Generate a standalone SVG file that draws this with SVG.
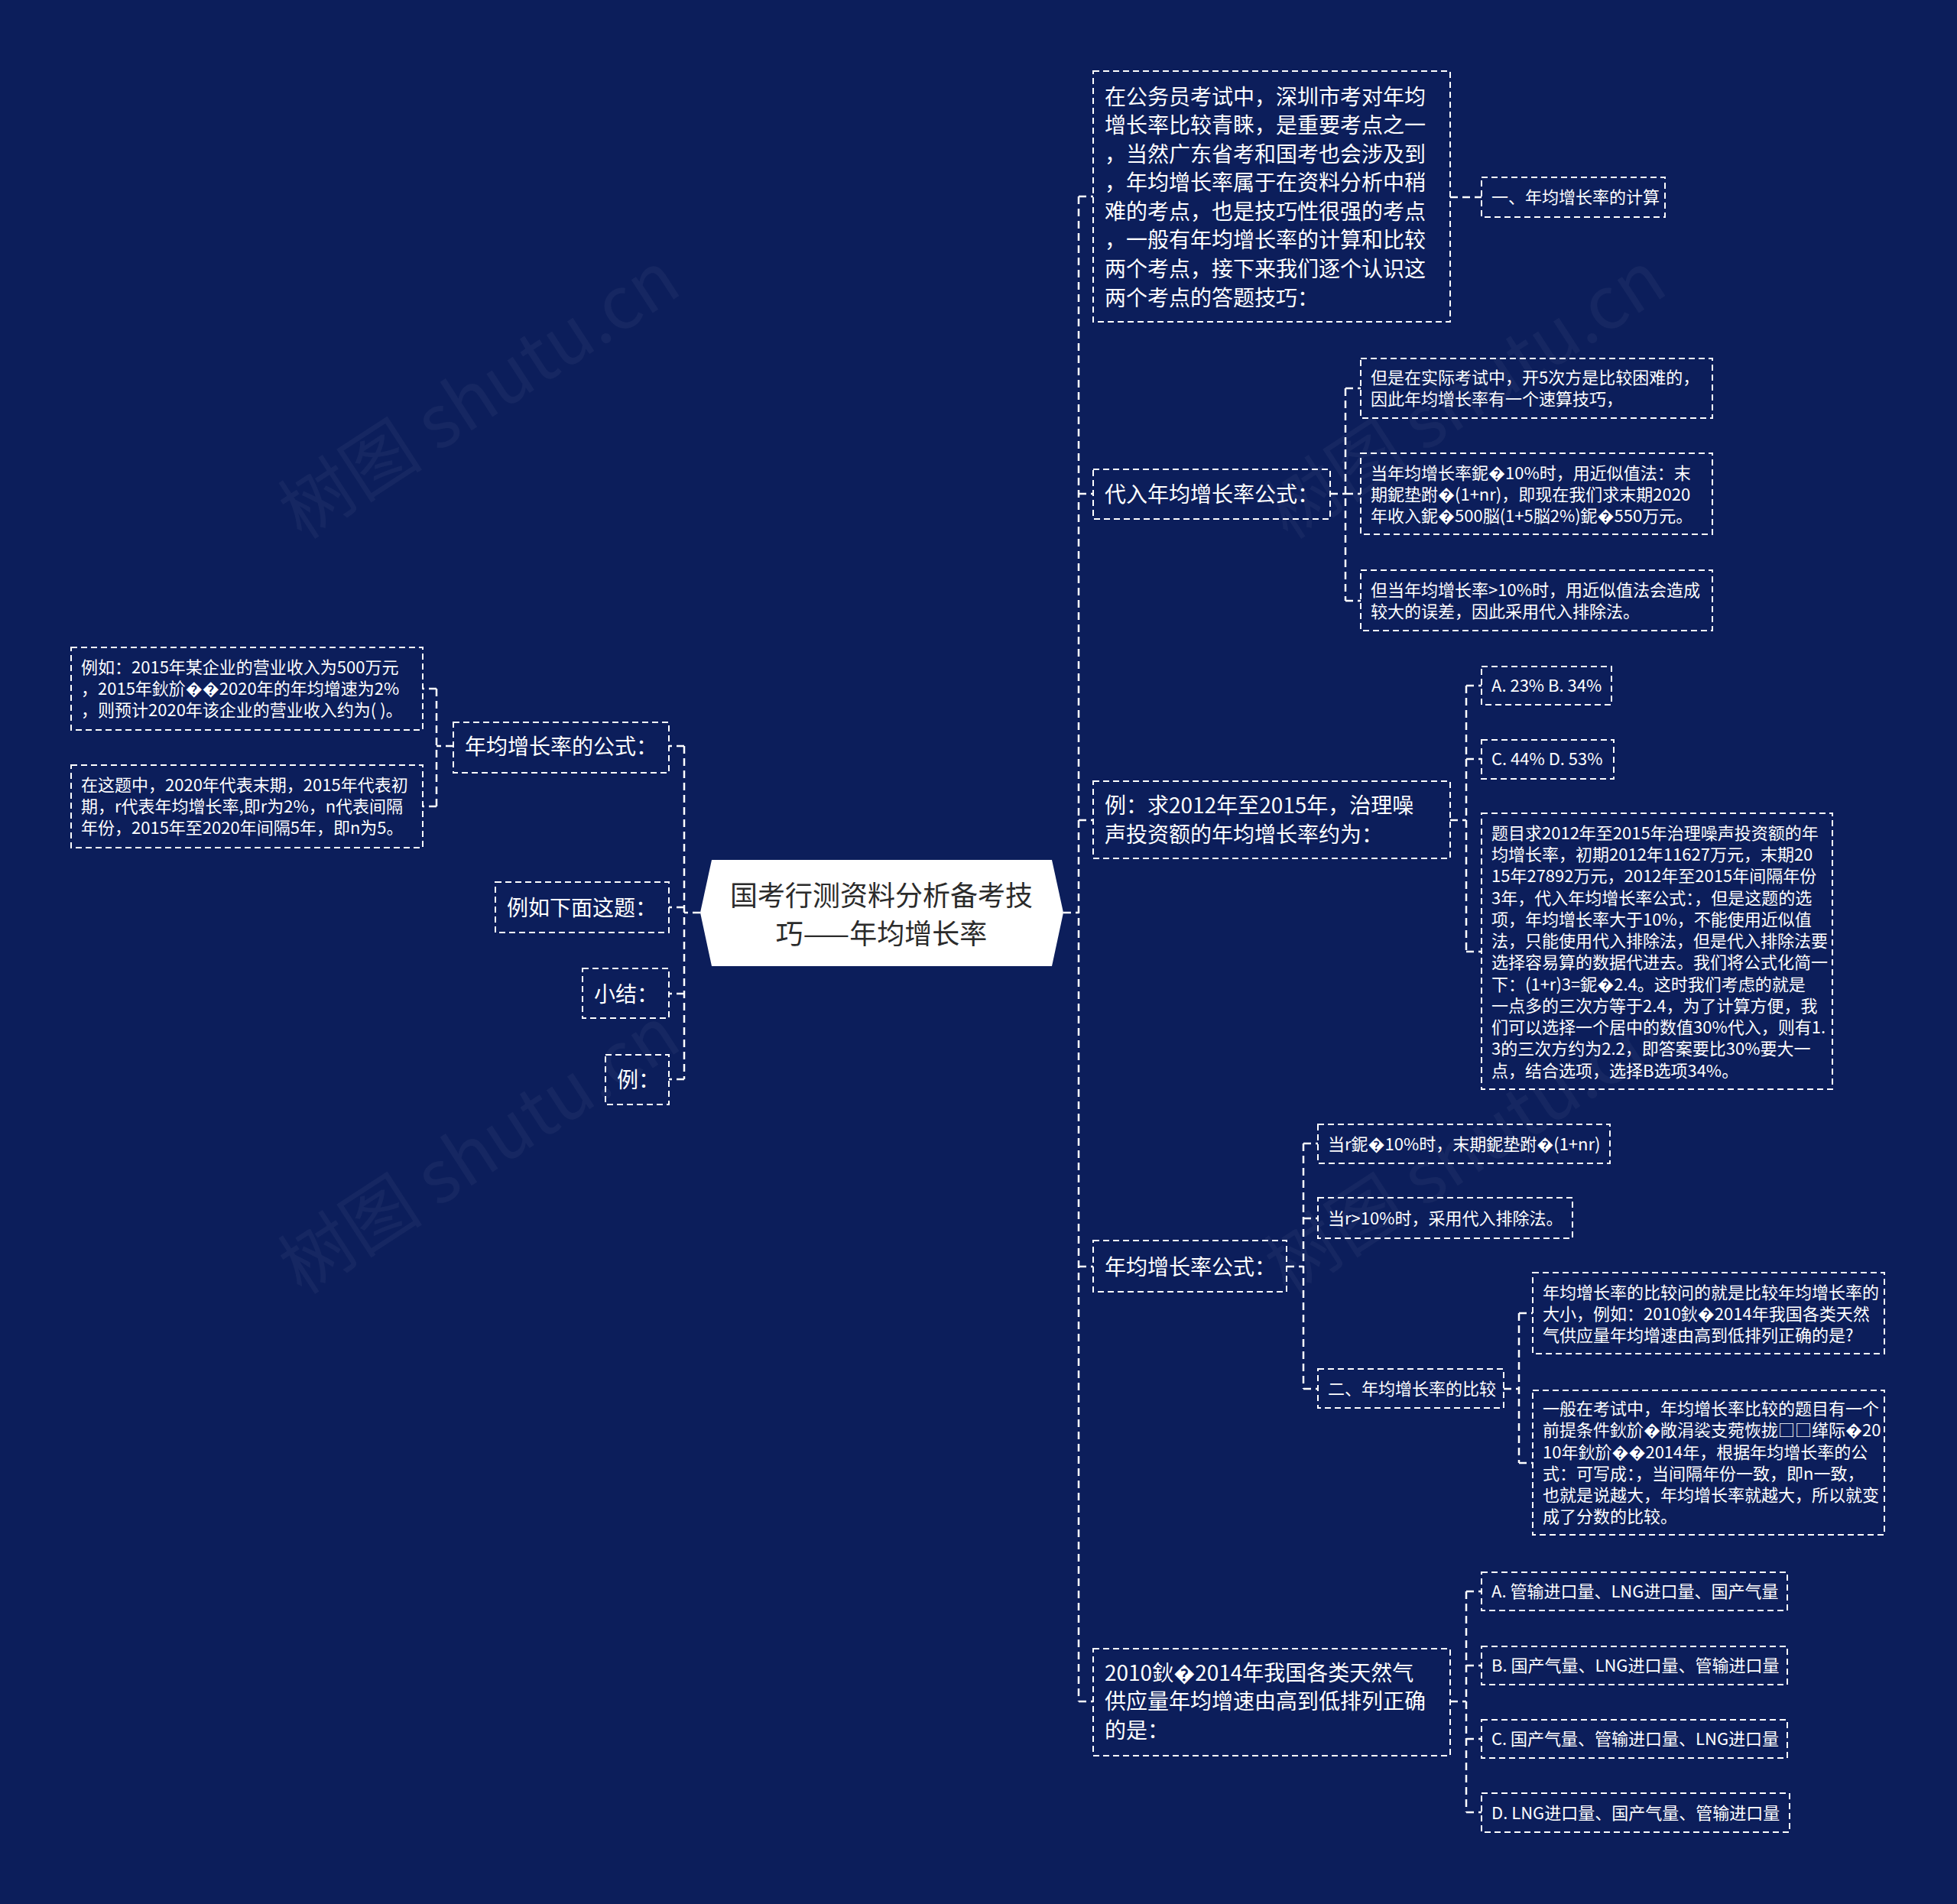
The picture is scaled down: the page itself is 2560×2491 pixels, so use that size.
<svg xmlns="http://www.w3.org/2000/svg" width="2560" height="2491" viewBox="0 0 2560 2491">
<style>
.box{fill:none;stroke:#ffffff;stroke-width:2;stroke-dasharray:8 5}
.con{fill:none;stroke:#ffffff;stroke-width:2.5;stroke-dasharray:10 6}
.t28{font-family:'Noto Sans CJK SC','Noto Sans',sans-serif;font-size:28px;fill:#ffffff}
.t22{font-family:'Noto Sans CJK SC','Noto Sans',sans-serif;font-size:22px;fill:#ffffff}
.wm{font-family:'Noto Sans CJK SC','Noto Sans',sans-serif;font-size:95px;fill:#ffffff;fill-opacity:0.045}
</style>
<rect x="0" y="0" width="2560" height="2491" fill="#0c1e5b"/>
<g id="watermark">
<text class="wm" text-anchor="middle" transform="translate(645,545) rotate(-33)">树图 shutu.cn</text>
<text class="wm" text-anchor="middle" transform="translate(645,1533) rotate(-33)">树图 shutu.cn</text>
<text class="wm" text-anchor="middle" transform="translate(1935,545) rotate(-33)">树图 shutu.cn</text>
<text class="wm" text-anchor="middle" transform="translate(1935,1533) rotate(-33)">树图 shutu.cn</text>
</g>
<g id="connectors">
<path class="con" d="M1391,1194 H1411 M1411,257 V2226 M1411,257 H1430 M1411,646 H1430 M1411,1073 H1430 M1411,1657 H1430 M1411,2226 H1430"/>
<path class="con" d="M916,1194 H895 M895,976 V1412 M895,976 H875 M895,1187 H875 M895,1300 H875 M895,1412 H875"/>
<path class="con" d="M593,976 H571 M571,901 V1055 M571,901 H553 M571,1055 H553"/>
<path class="con" d="M1897,258 H1938"/>
<path class="con" d="M1740,646 H1760 M1760,508 V786 M1760,508 H1780 M1760,646 H1780 M1760,786 H1780"/>
<path class="con" d="M1897,1073 H1918 M1918,897 V1245 M1918,897 H1938 M1918,993 H1938 M1918,1245 H1938"/>
<path class="con" d="M1683,1657 H1705 M1705,1496 V1817 M1705,1496 H1724 M1705,1594 H1724 M1705,1817 H1724"/>
<path class="con" d="M1967,1817 H1987 M1987,1718 V1914 M1987,1718 H2005 M1987,1914 H2005"/>
<path class="con" d="M1897,2226 H1918 M1918,2082 V2371 M1918,2082 H1938 M1918,2179 H1938 M1918,2275 H1938 M1918,2371 H1938"/>
</g>
<g id="root">
<polygon points="931,1125 1376,1125 1391,1194 1376,1264 931,1264 916,1194" fill="#ffffff"/>
<text x="1153" y="1185" text-anchor="middle" font-family="'Noto Sans CJK SC','Noto Sans',sans-serif" font-size="36" fill="#2b2b2b">国考行测资料分析备考技</text>
<text x="1153" y="1235" text-anchor="middle" font-family="'Noto Sans CJK SC','Noto Sans',sans-serif" font-size="36" fill="#2b2b2b">巧——年均增长率</text>
</g>
<g id="left1">
<rect class="box" x="593" y="945" width="282" height="66"/>
<text class="t28" x="608" y="987">年均增长率的公式：</text>
</g>
<g id="left1a">
<rect class="box" x="93" y="847" width="460" height="108"/>
<text class="t22" x="106" y="881">例如：2015年某企业的营业收入为500万元</text>
<text class="t22" x="106" y="909">，2015年鈥斺��2020年的年均增速为2%</text>
<text class="t22" x="106" y="937">，则预计2020年该企业的营业收入约为( )。</text>
</g>
<g id="left1b">
<rect class="box" x="93" y="1001" width="460" height="108"/>
<text class="t22" x="106" y="1035">在这题中，2020年代表末期，2015年代表初</text>
<text class="t22" x="106" y="1063">期，r代表年均增长率,即r为2%，n代表间隔</text>
<text class="t22" x="106" y="1091">年份，2015年至2020年间隔5年，即n为5。</text>
</g>
<g id="left2">
<rect class="box" x="648" y="1154" width="227" height="66"/>
<text class="t28" x="663" y="1198">例如下面这题：</text>
</g>
<g id="left3">
<rect class="box" x="762" y="1267" width="113" height="65"/>
<text class="t28" x="777" y="1311">小结：</text>
</g>
<g id="left4">
<rect class="box" x="792" y="1380" width="83" height="65"/>
<text class="t28" x="807" y="1423">例：</text>
</g>
<g id="r1">
<rect class="box" x="1430" y="93" width="467" height="328"/>
<text class="t28" x="1445" y="137">在公务员考试中，深圳市考对年均</text>
<text class="t28" x="1445" y="174">增长率比较青睐，是重要考点之一</text>
<text class="t28" x="1445" y="212">，当然广东省考和国考也会涉及到</text>
<text class="t28" x="1445" y="249">，年均增长率属于在资料分析中稍</text>
<text class="t28" x="1445" y="287">难的考点，也是技巧性很强的考点</text>
<text class="t28" x="1445" y="324">，一般有年均增长率的计算和比较</text>
<text class="t28" x="1445" y="362">两个考点，接下来我们逐个认识这</text>
<text class="t28" x="1445" y="400">两个考点的答题技巧：</text>
</g>
<g id="r1a">
<rect class="box" x="1938" y="232" width="240" height="52"/>
<text class="t22" x="1951" y="266">一、年均增长率的计算</text>
</g>
<g id="r2">
<rect class="box" x="1430" y="614" width="310" height="65"/>
<text class="t28" x="1445" y="657">代入年均增长率公式：</text>
</g>
<g id="r2a">
<rect class="box" x="1780" y="469" width="460" height="78"/>
<text class="t22" x="1793" y="502">但是在实际考试中，开5次方是比较困难的，</text>
<text class="t22" x="1793" y="530">因此年均增长率有一个速算技巧，</text>
</g>
<g id="r2b">
<rect class="box" x="1780" y="593" width="460" height="106"/>
<text class="t22" x="1793" y="627">当年均增长率鈮�10%时，用近似值法：末</text>
<text class="t22" x="1793" y="655">期鈮垫跗�(1+nr)，即现在我们求末期2020</text>
<text class="t22" x="1793" y="683">年收入鈮�500脳(1+5脳2%)鈮�550万元。</text>
</g>
<g id="r2c">
<rect class="box" x="1780" y="746" width="460" height="79"/>
<text class="t22" x="1793" y="780">但当年均增长率&gt;10%时，用近似值法会造成</text>
<text class="t22" x="1793" y="808">较大的误差，因此采用代入排除法。</text>
</g>
<g id="r3">
<rect class="box" x="1430" y="1022" width="467" height="101"/>
<text class="t28" x="1445" y="1064">例：求2012年至2015年，治理噪</text>
<text class="t28" x="1445" y="1102">声投资额的年均增长率约为：</text>
</g>
<g id="r3a">
<rect class="box" x="1938" y="872" width="170" height="50"/>
<text class="t22" x="1951" y="905">A. 23% B. 34%</text>
</g>
<g id="r3b">
<rect class="box" x="1938" y="968" width="173" height="51"/>
<text class="t22" x="1951" y="1001">C. 44% D. 53%</text>
</g>
<g id="r3c">
<rect class="box" x="1938" y="1064" width="459" height="361"/>
<text class="t22" x="1951" y="1098">题目求2012年至2015年治理噪声投资额的年</text>
<text class="t22" x="1951" y="1126">均增长率，初期2012年11627万元，末期20</text>
<text class="t22" x="1951" y="1154">15年27892万元，2012年至2015年间隔年份</text>
<text class="t22" x="1951" y="1183">3年，代入年均增长率公式：，但是这题的选</text>
<text class="t22" x="1951" y="1211">项，年均增长率大于10%，不能使用近似值</text>
<text class="t22" x="1951" y="1239">法，只能使用代入排除法，但是代入排除法要</text>
<text class="t22" x="1951" y="1267">选择容易算的数据代进去。我们将公式化简一</text>
<text class="t22" x="1951" y="1296">下：(1+r)3=鈮�2.4。这时我们考虑的就是</text>
<text class="t22" x="1951" y="1324">一点多的三次方等于2.4，为了计算方便，我</text>
<text class="t22" x="1951" y="1352">们可以选择一个居中的数值30%代入，则有1.</text>
<text class="t22" x="1951" y="1380">3的三次方约为2.2，即答案要比30%要大一</text>
<text class="t22" x="1951" y="1409">点，结合选项，选择B选项34%。</text>
</g>
<g id="r4">
<rect class="box" x="1430" y="1623" width="253" height="67"/>
<text class="t28" x="1445" y="1668">年均增长率公式：</text>
</g>
<g id="r4a">
<rect class="box" x="1724" y="1471" width="382" height="51"/>
<text class="t22" x="1737" y="1505">当r鈮�10%时，末期鈮垫跗�(1+nr)</text>
</g>
<g id="r4b">
<rect class="box" x="1724" y="1567" width="333" height="53"/>
<text class="t22" x="1737" y="1602">当r&gt;10%时，采用代入排除法。</text>
</g>
<g id="r4c">
<rect class="box" x="1724" y="1791" width="243" height="51"/>
<text class="t22" x="1737" y="1825">二、年均增长率的比较</text>
</g>
<g id="r4c1">
<rect class="box" x="2005" y="1665" width="460" height="106"/>
<text class="t22" x="2018" y="1699">年均增长率的比较问的就是比较年均增长率的</text>
<text class="t22" x="2018" y="1727">大小，例如：2010鈥�2014年我国各类天然</text>
<text class="t22" x="2018" y="1755">气供应量年均增速由高到低排列正确的是?</text>
</g>
<g id="r4c2">
<rect class="box" x="2005" y="1819" width="460" height="189"/>
<text class="t22" x="2018" y="1851">一般在考试中，年均增长率比较的题目有一个</text>
<text class="t22" x="2018" y="1879">前提条件鈥斺�敞涓裟支菀恢拢□□缂际�20</text>
<text class="t22" x="2018" y="1908">10年鈥斺��2014年，根据年均增长率的公</text>
<text class="t22" x="2018" y="1936">式：可写成：，当间隔年份一致，即n一致，</text>
<text class="t22" x="2018" y="1964">也就是说越大，年均增长率就越大，所以就变</text>
<text class="t22" x="2018" y="1992">成了分数的比较。</text>
</g>
<g id="r5">
<rect class="box" x="1430" y="2157" width="467" height="140"/>
<text class="t28" x="1445" y="2199">2010鈥�2014年我国各类天然气</text>
<text class="t28" x="1445" y="2236">供应量年均增速由高到低排列正确</text>
<text class="t28" x="1445" y="2274">的是：</text>
</g>
<g id="r5a">
<rect class="box" x="1938" y="2057" width="400" height="50"/>
<text class="t22" x="1951" y="2090">A. 管输进口量、LNG进口量、国产气量</text>
</g>
<g id="r5b">
<rect class="box" x="1938" y="2154" width="400" height="50"/>
<text class="t22" x="1951" y="2187">B. 国产气量、LNG进口量、管输进口量</text>
</g>
<g id="r5c">
<rect class="box" x="1938" y="2250" width="400" height="50"/>
<text class="t22" x="1951" y="2283">C. 国产气量、管输进口量、LNG进口量</text>
</g>
<g id="r5d">
<rect class="box" x="1938" y="2346" width="403" height="51"/>
<text class="t22" x="1951" y="2380">D. LNG进口量、国产气量、管输进口量</text>
</g>
</svg>
